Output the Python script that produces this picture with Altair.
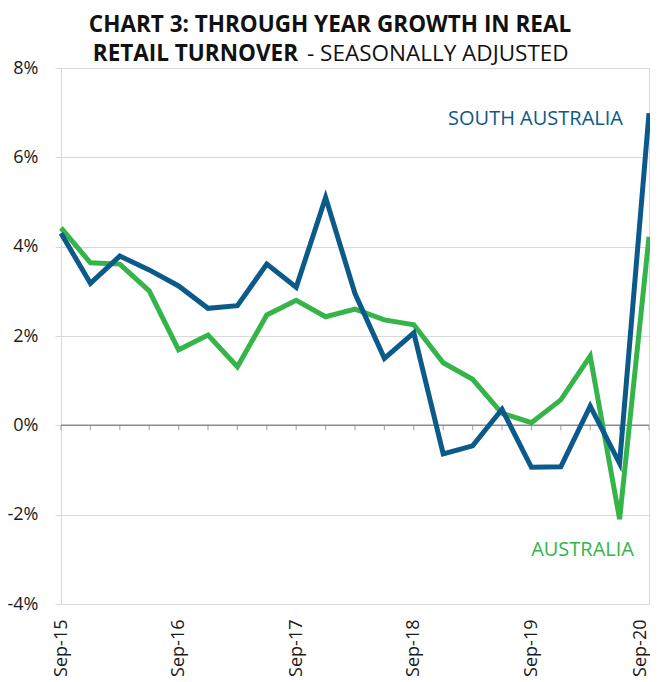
import altair as alt
import pandas as pd

quarters = ["Sep-15", "Dec-15", "Mar-16", "Jun-16", "Sep-16", "Dec-16", "Mar-17",
            "Jun-17", "Sep-17", "Dec-17", "Mar-18", "Jun-18", "Sep-18", "Dec-18",
            "Mar-19", "Jun-19", "Sep-19", "Dec-19", "Mar-20", "Jun-20", "Sep-20"]
south_australia = [4.30, 3.18, 3.79, 3.48, 3.12, 2.62, 2.68, 3.61, 3.09, 5.10, 2.95,
                   1.50, 2.07, -0.64, -0.46, 0.36, -0.94, -0.93, 0.43, -0.85, 6.99]
australia = [4.42, 3.64, 3.61, 3.01, 1.69, 2.02, 1.31, 2.47, 2.80, 2.43, 2.60,
             2.36, 2.25, 1.40, 1.03, 0.27, 0.06, 0.57, 1.55, -2.10, 4.22]
y_ticks = [-4, -2, 0, 2, 4, 6, 8]

BLUE = "#0B5A8A"
GREEN = "#35B44A"
FONT = "Open Sans"

sa_df = pd.DataFrame({"quarter": quarters, "value": south_australia})
au_df = pd.DataFrame({"quarter": quarters, "value": australia})
zero_df = pd.DataFrame({"quarter": quarters, "value": [0] * len(quarters)})

x_enc = alt.X(
    "quarter:N", sort=quarters,
    scale=alt.Scale(type="point", padding=0),
    axis=alt.Axis(
        labelExpr="indexof(datum.label, 'Sep') == 0 ? datum.label : ''",
        labelAngle=270, ticks=False, tickSize=0, domain=False, grid=False,
        labelPadding=15, labelFontSize=18, labelFont=FONT, labelColor="#1a1a1a",
        labelOverlap=False, title=None,
        labelOffset={"condition": {"test": "datum.label == 'Sep-20'", "value": -9}, "value": 0},
    ),
)
y_enc = alt.Y(
    "value:Q",
    scale=alt.Scale(domain=[-4, 8], nice=False, zero=False),
    axis=alt.Axis(
        values=y_ticks, labelExpr="datum.value + '%'", grid=True,
        gridColor="#d9d9d9", domain=False, tickColor="#d9d9d9", tickSize=6,
        labelPadding=17, labelFontSize=18, labelFont=FONT, labelColor="#1a1a1a",
        title=None,
    ),
)

zero_rule = alt.Chart(pd.DataFrame({"value": [0]})).mark_rule(
    color="#8c8c8c", strokeWidth=1.5
).encode(y="value:Q")

zero_ticks = alt.Chart(zero_df).mark_tick(
    orient="vertical", size=5, thickness=1.2, yOffset=2.5, color="#8c8c8c"
).encode(x=x_enc, y=y_enc)

au_line = alt.Chart(au_df).mark_line(color=GREEN, strokeWidth=5).encode(x=x_enc, y=y_enc)
sa_line = alt.Chart(sa_df).mark_line(color=BLUE, strokeWidth=5).encode(x=x_enc, y=y_enc)

def text_layer(txt, x, y, size, weight="normal", color="#111111", align="center"):
    return alt.Chart(pd.DataFrame({"t": [txt]})).mark_text(
        font=FONT, fontSize=size, fontWeight=weight, color=color,
        align=align, baseline="alphabetic",
    ).encode(text="t:N", x=alt.value(x), y=alt.value(y))

title1 = text_layer("CHART 3: THROUGH YEAR GROWTH IN REAL", 269, -36, 22.5, "bold")
title2a = text_layer("RETAIL TURNOVER", 237, -7, 22.5, "bold", align="right")
title2b = text_layer("- SEASONALLY ADJUSTED", 246, -7, 22.5, "normal", align="left")
lab_sa = text_layer("SOUTH AUSTRALIA", 562, 57, 20, color=BLUE, align="right")
lab_au = text_layer("AUSTRALIA", 573, 488, 20, color=GREEN, align="right")

chart = alt.layer(
    zero_rule, zero_ticks, au_line, sa_line, title1, title2a, title2b, lab_sa, lab_au
).properties(
    width=588, height=536,
    padding={"left": 53, "top": 60, "right": 1, "bottom": 72},
    autosize=alt.AutoSizeParams(type="none"),
).configure_view(stroke="#d9d9d9", strokeWidth=1)

chart.save("out.html", embed_options={"renderer": "svg", "actions": False})
